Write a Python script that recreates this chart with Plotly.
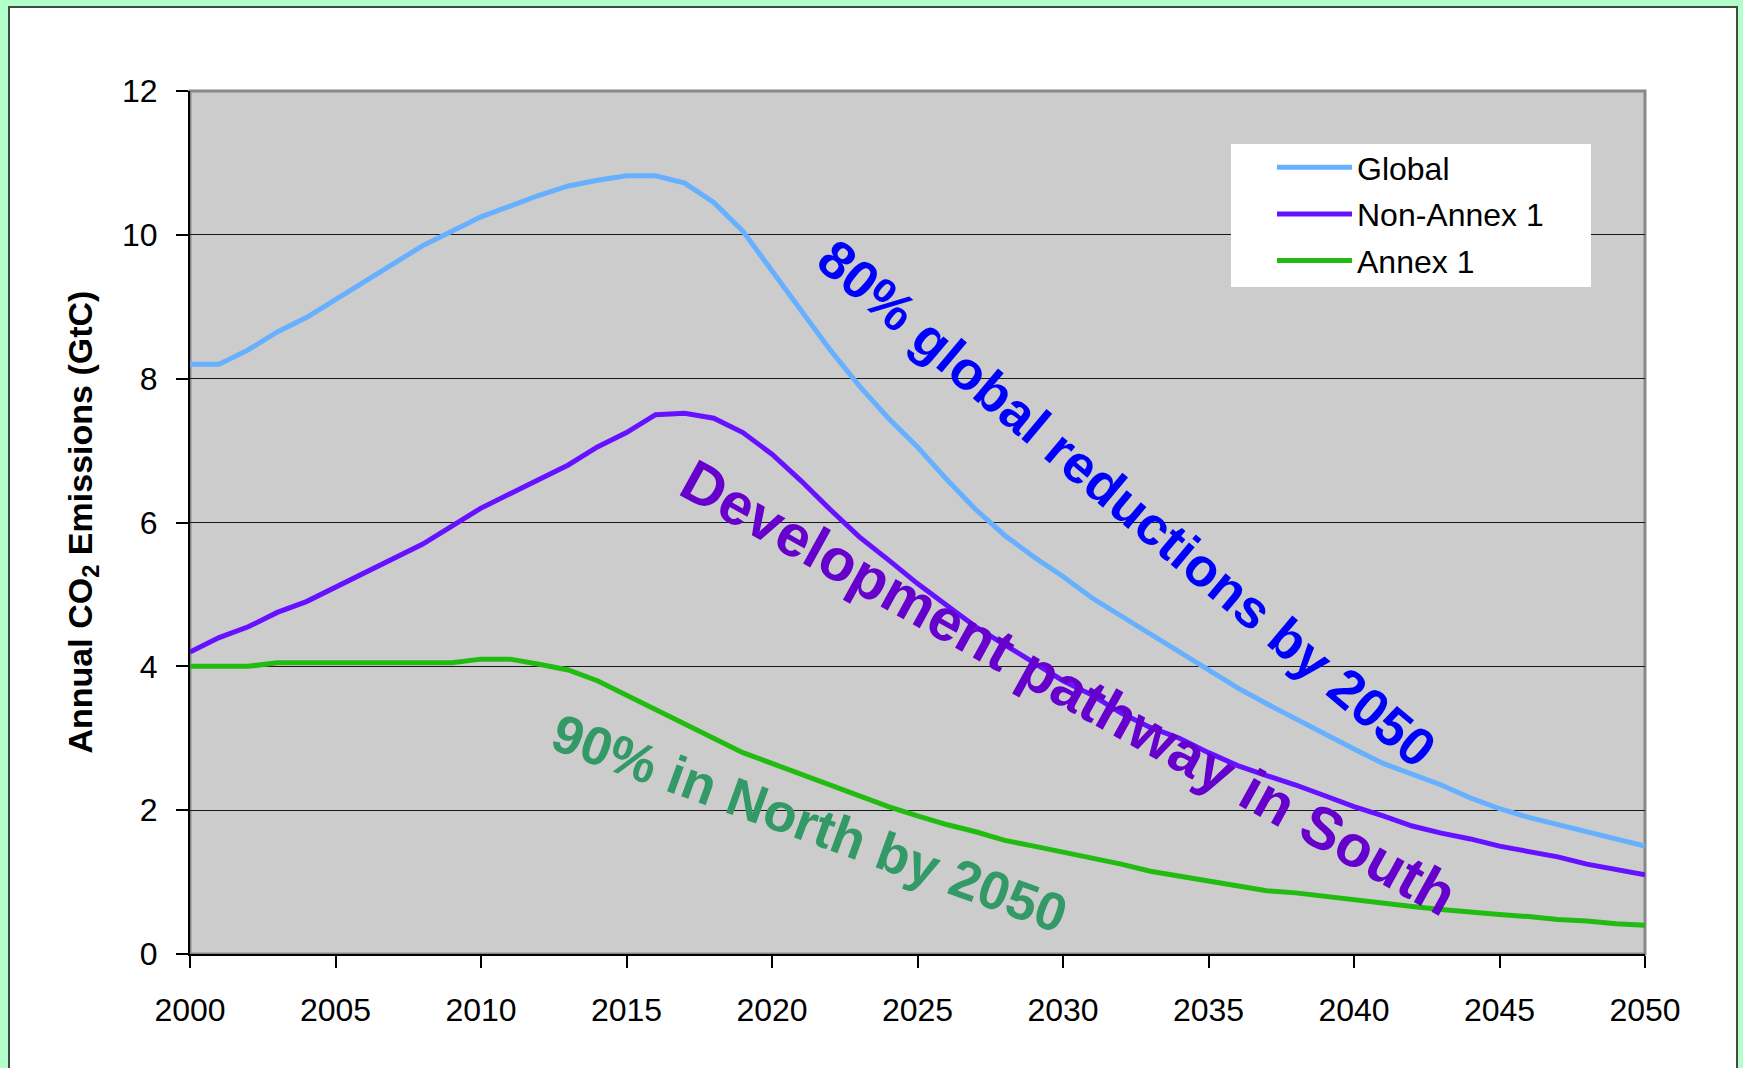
import plotly.graph_objects as go

years = list(range(2000, 2051))
global_em = [8.2, 8.2, 8.4, 8.65, 8.85, 9.1, 9.35, 9.6, 9.85, 10.05,
             10.25, 10.4, 10.55, 10.68, 10.76, 10.82, 10.82, 10.72, 10.45, 10.05,
             9.5, 8.95, 8.4, 7.9, 7.45, 7.05, 6.6, 6.18, 5.82, 5.52,
             5.25, 4.95, 4.7, 4.45, 4.2, 3.95, 3.7, 3.48, 3.27, 3.05,
             2.85, 2.65, 2.5, 2.35, 2.17, 2.02, 1.9, 1.8, 1.7, 1.6, 1.5]
non_annex1 = [4.2, 4.4, 4.55, 4.75, 4.9, 5.1, 5.3, 5.5, 5.7, 5.95,
              6.2, 6.4, 6.6, 6.8, 7.05, 7.25, 7.5, 7.52, 7.45, 7.25,
              6.95, 6.58, 6.18, 5.8, 5.48, 5.15, 4.85, 4.55, 4.3, 4.05,
              3.8, 3.6, 3.35, 3.15, 3.0, 2.8, 2.62, 2.48, 2.35, 2.2,
              2.05, 1.92, 1.78, 1.68, 1.6, 1.5, 1.42, 1.35, 1.25, 1.18, 1.1]
annex1 = [4.0, 4.0, 4.0, 4.05, 4.05, 4.05, 4.05, 4.05, 4.05, 4.05,
          4.1, 4.1, 4.03, 3.95, 3.8, 3.6, 3.4, 3.2, 3.0, 2.8,
          2.65, 2.5, 2.35, 2.2, 2.05, 1.92, 1.8, 1.7, 1.58, 1.5,
          1.42, 1.33, 1.25, 1.15, 1.08, 1.02, 0.95, 0.88, 0.85, 0.8,
          0.75, 0.7, 0.66, 0.62, 0.58, 0.55, 0.52, 0.48, 0.46, 0.42, 0.4]

series_names = ["Global", "Non-Annex 1", "Annex 1"]
series_colors = ["#66b0ff", "#6611ff", "#22bb11"]
x_ticks = list(range(2000, 2051, 5))
y_ticks = list(range(0, 13, 2))
y_title = "Annual CO<sub>2</sub> Emissions (GtC)"
notes = ["80% global reductions by 2050", "Development pathway in South", "90% in North by 2050"]

FONT = "Liberation Sans, Arial, sans-serif"

fig = go.Figure()
for name, vals, col in zip(series_names, [global_em, non_annex1, annex1], series_colors):
    fig.add_trace(go.Scatter(x=years, y=vals, mode="lines", name=name, legendgroup=name,
                             line=dict(color=col, width=5)))

W, H = 1743, 1068
L, R, T, B = 190, 98, 91, 114
pw, ph = W - L - R, H - T - B

def px2paper_x(px):
    return (px - L) / pw

def px2paper_y(py):
    return (H - B - py) / ph

shapes = [
    dict(type="rect", xref="paper", yref="paper", x0=px2paper_x(0), x1=px2paper_x(W), y0=px2paper_y(7), y1=px2paper_y(0),
         fillcolor="#b3ffcc", line_width=0, layer="below"),
    dict(type="rect", xref="paper", yref="paper", x0=px2paper_x(0), x1=px2paper_x(8), y0=px2paper_y(H), y1=px2paper_y(0),
         fillcolor="#b3ffcc", line_width=0, layer="below"),
    dict(type="rect", xref="paper", yref="paper", x0=px2paper_x(1738), x1=px2paper_x(W), y0=px2paper_y(H), y1=px2paper_y(0),
         fillcolor="#b3ffcc", line_width=0, layer="below"),
    dict(type="line", xref="paper", yref="paper", x0=px2paper_x(9), x1=px2paper_x(9), y0=px2paper_y(H), y1=px2paper_y(7),
         line=dict(color="#3d4d40", width=2), layer="below"),
    dict(type="line", xref="paper", yref="paper", x0=px2paper_x(8), x1=px2paper_x(1738), y0=px2paper_y(7), y1=px2paper_y(7),
         line=dict(color="#3d4d40", width=2), layer="below"),
    dict(type="line", xref="paper", yref="paper", x0=px2paper_x(1737), x1=px2paper_x(1737), y0=px2paper_y(H), y1=px2paper_y(7),
         line=dict(color="#3d4d40", width=2), layer="below"),
    dict(type="rect", xref="paper", yref="paper", x0=0, x1=1, y0=0, y1=1,
         line=dict(color="#888888", width=3), layer="below"),
    dict(type="rect", xref="paper", yref="paper", x0=px2paper_x(1231), x1=px2paper_x(1591),
         y0=px2paper_y(287), y1=px2paper_y(144), fillcolor="white", line_width=0, layer="above"),
]

annotations = [
    dict(text="<b>" + y_title + "</b>", textangle=-90, xref="paper", yref="paper",
         x=px2paper_x(82), y=0.5, xanchor="center", yanchor="middle", showarrow=False,
         font=dict(family=FONT, size=34, color="black")),
    dict(text="<b>" + notes[0] + "</b>", textangle=40, xref="x", yref="y", x=2032.2, y=6.27,
         showarrow=False, font=dict(family=FONT, size=54, color="#0000ff")),
    dict(text="<b>" + notes[1] + "</b>", textangle=29, xref="x", yref="y", x=2030.2, y=3.7,
         showarrow=False, font=dict(family=FONT, size=59, color="#6600cc")),
    dict(text="<b>" + notes[2] + "</b>", textangle=20, xref="x", yref="y", x=2021.3, y=1.82,
         showarrow=False, font=dict(family=FONT, size=54, color="#339966")),
]

fig.update_layout(
    width=W, height=H, autosize=False,
    margin=dict(l=L, r=R, t=T, b=B, pad=0),
    paper_bgcolor="white", plot_bgcolor="#cccccc",
    font=dict(family=FONT, size=32, color="black"),
    showlegend=True,
    legend=dict(x=px2paper_x(1272), y=px2paper_y(140), xanchor="left", yanchor="top",
                bgcolor="rgba(0,0,0,0)", borderwidth=0, itemwidth=75, traceorder="grouped",
                tracegroupgap=2, font=dict(family=FONT, size=32, color="black")),
    shapes=shapes, annotations=annotations,
)
fig.update_xaxes(range=[2000, 2050], tickvals=x_ticks, ticks="outside", ticklen=12, tickwidth=1.5,
                 tickcolor="black", showgrid=False, zeroline=False, showline=True, linecolor="black",
                 linewidth=2, ticklabelstandoff=15, tickfont=dict(family=FONT, size=32, color="black"))
fig.update_yaxes(range=[0, 12], tickvals=y_ticks, ticks="outside", ticklen=12, tickwidth=1.5,
                 tickcolor="black", showgrid=True, gridcolor="#1a1a1a", gridwidth=1, zeroline=False,
                 showline=True, linecolor="black", linewidth=2, ticklabelstandoff=12,
                 tickfont=dict(family=FONT, size=32, color="black"))

fig.write_html("out.html", config={"displayModeBar": False},
               post_script="document.body.style.margin='0';document.body.style.overflow='hidden';")
